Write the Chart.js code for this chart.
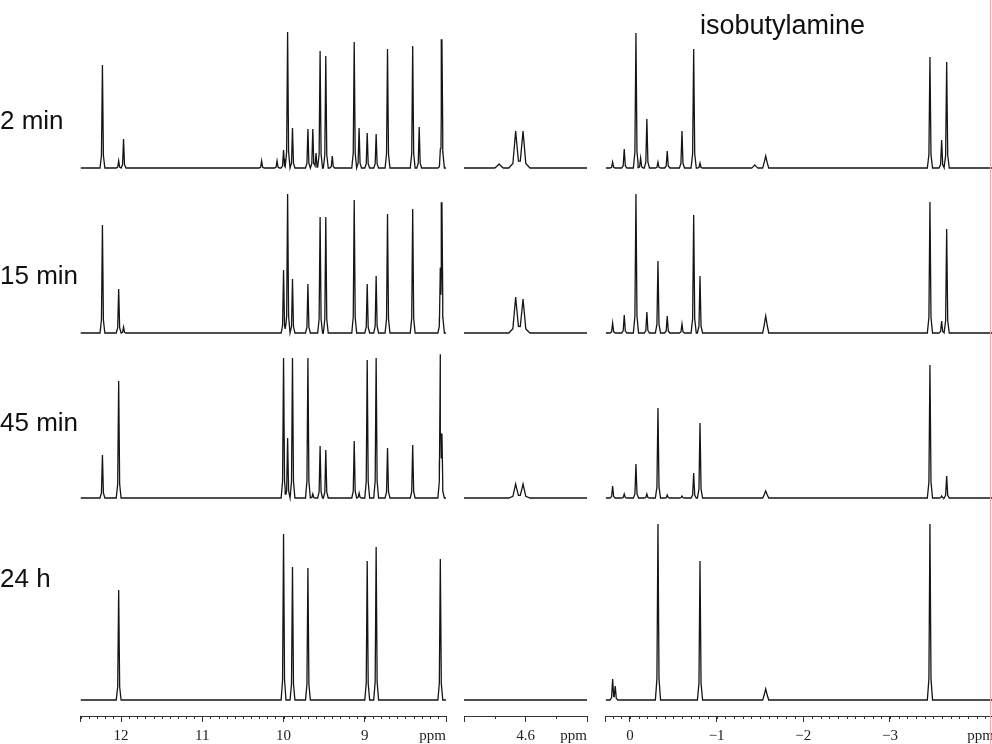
<!DOCTYPE html>
<html>
<head>
<meta charset="utf-8">
<script src="https://cdn.jsdelivr.net/npm/chart.js@4.4.1/dist/chart.umd.min.js"></script>
<style>
  html, body { margin: 0; padding: 0; background: #fff; }
  body { width: 992px; height: 744px; position: relative; overflow: hidden; }
  canvas { position: absolute; left: 0; top: 0; }
  .lbl { position: absolute; left: 0; font-family: "Liberation Sans", Arial, sans-serif; font-size: 26px; line-height: 26px; color: #111; white-space: nowrap; }
  #title { left: 700px; top: 12px; font-size: 27px; line-height: 27px; }
  #edge { position: absolute; left: 990px; top: 0; width: 1px; height: 744px; background: #f2a8a8; }
</style>
</head>
<body>
<canvas id="cLow" width="992" height="744"></canvas>
<canvas id="cMid" width="992" height="744"></canvas>
<canvas id="cHigh" width="1000" height="744"></canvas>
<div id="edge"></div>
<div class="lbl" id="title"></div>
<script>
// ── data (peak positions in ppm, heights per time point) ──
const rowLabels = ['2 min', '15 min', '45 min', '24 h'];
const titleText = 'isobutylamine';

// 12.5 – 8 ppm region
const lowPeaks = [12.23, 12.03, 11.97, 10.27, 10.08, 10.00, 9.95, 9.89, 9.70, 9.64, 9.60, 9.55, 9.48, 9.40, 9.13, 9.07, 8.97, 8.86, 8.72, 8.41, 8.33, 8.07, 8.05];
const low2min  = [103,   7,  29,   7,   7,  18, 136,  40,  39,  39,  15, 117, 112,  12, 126,  40,  35,  34, 119, 122,  41,  10, 128];
const low15min = [108,  44,   6,   0,   0,  63, 139,  54,  49,   0,   0, 116, 116,   0, 133,   0,  49,  57, 119, 124,   0,  57, 127];
const low45min = [ 43, 117,   0,   0,   0, 140,  60, 140, 140,   4,   0,  52,  48,   0,  57,   5, 138, 140,  50,  53,   0, 140,  55];
const low24h   = [  0, 110,   0,   0,   0, 166,   0, 133, 132,   0,   0,   0,   0,   0,   0,   0, 139, 153,   0,   0,   0, 141,   0];
const lowTicks      = [8, 9, 10, 11, 12, 12.5];
const lowTickLabels = ['ppm', '9', '10', '11', '12', ''];

// water region around 4.6 ppm
const midPeaks = [4.616, 4.604];
const mid2min  = [37, 37];
const mid15min = [36, 34];
const mid45min = [14, 14];
const mid24h   = [0, 0];
const midBroad      = [4.643];
const midBroad2min  = [4];
const midBroad15min = [0];
const midBroad45min = [0];
const midBroad24h   = [0];
const midTicks      = [4.5, 4.6, 4.7];
const midTickLabels = ['ppm', '4.6', ''];

// upfield region (bound isobutylamine)
const highPeaks = [0.20, 0.17, 0.066, -0.069, -0.123, -0.195, -0.323, -0.430, -0.600, -0.735, -0.808, -3.461, -3.596, -3.654];
const high2min  = [ 6,  0, 19, 135, 10, 49,   6, 17, 37, 119,   5, 111, 28, 106];
const high15min = [10,  0, 18, 139,  0, 21,  72, 17,  9, 118,  57, 131, 12, 104];
const high45min = [12,  0,  4,  34,  0,  4,  90,  3,  2,  25,  75, 133,  2,  22];
const high24h   = [21, 14,  0,   0,  0,  0, 176,  0,  0,   0, 139, 176,  0,   0];
const highBroad      = [-1.44, -1.566];
const highBroad2min  = [3, 12];
const highBroad15min = [0, 17];
const highBroad45min = [0, 7];
const highBroad24h   = [0, 11];
const highTicks      = [-4.2, -3, -2, -1, 0, 0.28];
const highTickLabels = ['ppm', '\u22123', '\u22122', '\u22121', '0', ''];

// ── layout ──
const rowBase  = [548, 383, 218, 16];   // baseline offset of each trace (px above the axis)
const labelTop = [107, 262, 409, 565];
const plotTop  = 716;                    // axis line y

// piecewise-linear peak profile: offsets in units of w, relative height
const profX = [-2.5, -1, 0, 1, 2.5];
const profY = [0, 0.12, 1, 0.12, 0];
const bumpX = [-1, -0.5, 0, 0.5, 1];
const bumpY = [0, 0.45, 1, 0.45, 0];

function shape(d, w, px, py) {
    const u = d / w;
    if (u <= px[0] || u >= px[px.length - 1]) return 0;
    for (let i = 1; i < px.length; i++) {
        if (u <= px[i]) {
            const t = (u - px[i - 1]) / (px[i] - px[i - 1]);
            return py[i - 1] + t * (py[i] - py[i - 1]);
        }
    }
    return 0;
}

// groups: [{peaks, heights, w, px, py}]
function trace(groups, base, lo, hi) {
    let xs = [lo, hi];
    groups.forEach(g => g.peaks.forEach((p, i) => {
        if (g.heights[i] > 0) g.px.forEach(o => xs.push(p + o * g.w));
    }));
    xs = xs.filter(x => x >= lo && x <= hi).sort((a, b) => a - b);
    return xs.map(x => ({
        x,
        y: base + groups.reduce((s, g) =>
            s + g.peaks.reduce((t, p, i) => t + g.heights[i] * shape(x - p, g.w, g.px, g.py), 0), 0),
    }));
}

const minorTicks = {
    id: 'minorTicks',
    afterDraw(chart, args, opts) {
        const s = chart.scales.x, ctx = chart.ctx;
        ctx.save();
        ctx.strokeStyle = '#333';
        ctx.lineWidth = 1;
        ctx.beginPath();
        const k0 = Math.ceil(s.min / opts.step - 1e-6), k1 = Math.floor(s.max / opts.step + 1e-6);
        for (let k = k0; k <= k1; k++) {
            const px = Math.round(s.getPixelForValue(k * opts.step)) + 0.5;
            ctx.moveTo(px, s.top);
            ctx.lineTo(px, s.top + 3);
        }
        ctx.stroke();
        ctx.restore();
    },
};

function makePanel(id, cfg) {
    new Chart(document.getElementById(id), {
        type: 'line',
        data: {
            datasets: rowLabels.map((lab, r) => ({
                label: lab,
                data: trace(cfg.groups.map(g => ({
                    peaks: g.peaks, heights: g.rows[r], w: g.w,
                    px: g.broad ? bumpX : profX, py: g.broad ? bumpY : profY,
                })), rowBase[r], cfg.min, cfg.max),
                borderColor: '#151515',
                borderWidth: 1.3,
                pointRadius: 0,
                tension: 0,
                fill: false,
            })),
        },
        options: {
            responsive: false,
            animation: false,
            layout: { padding: { left: cfg.left, right: cfg.right, top: 0, bottom: 0 } },
            plugins: { legend: { display: false }, tooltip: { enabled: false }, minorTicks: { step: cfg.minor } },
            scales: {
                x: {
                    type: 'linear', reverse: true, min: cfg.min, max: cfg.max,
                    afterBuildTicks: s => { s.ticks = cfg.ticks.map(v => ({ value: v })); },
                    afterFit: s => { s.height = 744 - plotTop; },
                    border: { display: true, color: '#333', width: 1 },
                    grid: { drawOnChartArea: false, drawTicks: true, tickLength: 6, color: '#333' },
                    ticks: {
                        autoSkip: false, maxRotation: 0, align: 'inner', padding: 5, color: '#222',
                        font: { family: '"Liberation Serif", "Times New Roman", serif', size: 15 },
                        callback: (v, i) => cfg.labels[i],
                    },
                },
                y: { display: false, min: 0, max: plotTop },
            },
        },
        plugins: [minorTicks],
    });
}

makePanel('cLow', {
    groups: [{ peaks: lowPeaks, rows: [low2min, low15min, low45min, low24h], w: 0.012 }],
    min: 8.0, max: 12.5, minor: 0.1,
    ticks: lowTicks, labels: lowTickLabels, left: 80.5, right: 992 - 446,
});
makePanel('cMid', {
    groups: [
        { peaks: midPeaks, rows: [mid2min, mid15min, mid45min, mid24h], w: 0.0045 },
        { peaks: midBroad, rows: [midBroad2min, midBroad15min, midBroad45min, midBroad24h], w: 0.007, broad: true },
    ],
    min: 4.5, max: 4.7, minor: 0.05,
    ticks: midTicks, labels: midTickLabels, left: 464, right: 992 - 587,
});
makePanel('cHigh', {
    groups: [
        { peaks: highPeaks, rows: [high2min, high15min, high45min, high24h], w: 0.012 },
        { peaks: highBroad, rows: [highBroad2min, highBroad15min, highBroad45min, highBroad24h], w: 0.035, broad: true },
    ],
    min: -4.2, max: 0.28, minor: 0.1,
    ticks: highTicks, labels: highTickLabels, left: 605.7, right: 1000 - 994,
});

document.getElementById('title').textContent = titleText;
rowLabels.forEach((t, r) => {
    const d = document.createElement('div');
    d.className = 'lbl';
    d.style.top = labelTop[r] + 'px';
    d.textContent = t;
    document.body.appendChild(d);
});
</script>
</body>
</html>
